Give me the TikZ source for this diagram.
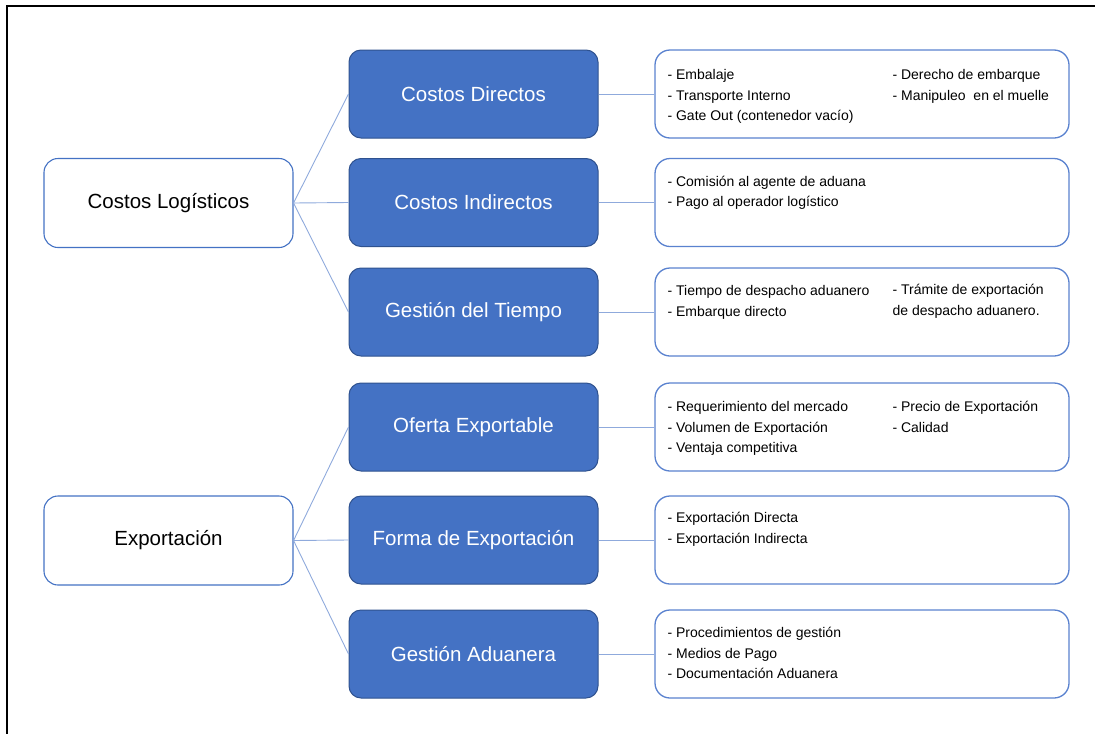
\documentclass[tikz,border=0pt]{standalone}
\usepackage{fontspec}
\setmainfont{Liberation Sans}
\definecolor{bluefill}{HTML}{4472C4}
\definecolor{blueedge}{HTML}{2F528F}
\definecolor{linkblue}{HTML}{8FAADC}
\definecolor{listedge}{HTML}{5A82CF}
\begin{document}
\begin{tikzpicture}[x=1pt,y=-1pt,
    rootbox/.style={draw=bluefill, line width=1.1pt, rounded corners=14pt, fill=white,
        minimum width=249pt, minimum height=89pt, inner sep=0pt,
        font=\fontsize{20.5}{24}\selectfont},
    topicbox/.style={draw=blueedge, line width=1pt, rounded corners=12pt, fill=bluefill,
        text=white, minimum width=249pt, minimum height=88pt, inner sep=0pt,
        font=\fontsize{20.5}{24}\selectfont},
    listbox/.style={draw=listedge, line width=1.3pt, rounded corners=15pt, fill=white,
        minimum width=414pt, minimum height=88pt, inner sep=0pt},
    listtext/.style={anchor=north west, align=left, inner sep=0pt,
        font=\fontsize{14}{20.5}\selectfont},
    link/.style={draw=linkblue, line width=0.9pt}]
    \useasboundingbox (0,0) rectangle (1095,734);
    \draw[line width=2.5pt] (1095,6) -- (7,6) -- (7,734);

    \node[rootbox] (costos) at (168.5,203) {Costos Logísticos};
    \node[rootbox] (export) at (168.5,540.5) {Exportación};

    \node[topicbox] (directos) at (473.5,94) {Costos Directos};
    \node[topicbox] (indirectos) at (473.5,202.5) {Costos Indirectos};
    \node[topicbox] (tiempo) at (473.5,312) {Gestión del Tiempo};
    \node[topicbox] (oferta) at (473.5,427) {Oferta Exportable};
    \node[topicbox] (forma) at (473.5,540) {Forma de Exportación};
    \node[topicbox] (aduanera) at (473.5,654) {Gestión Aduanera};

    \node[listbox] (l-directos) at (862,94) {};
    \node[listbox] (l-indirectos) at (862,202.5) {};
    \node[listbox] (l-tiempo) at (862,312) {};
    \node[listbox] (l-oferta) at (862,427) {};
    \node[listbox] (l-forma) at (862,540) {};
    \node[listbox] (l-aduanera) at (862,654) {};

    \node[listtext] (t-directos-a) at ([shift={(13,20)}]l-directos.north west)
        {- Embalaje\\- Transporte Interno\\- Gate Out (contenedor vacío)};
    \node[listtext] (t-directos-b) at ([shift={(238,20)}]l-directos.north west)
        {- Derecho de embarque\\- Manipuleo~ en el muelle};
    \node[listtext] (t-indirectos) at ([shift={(13,18)}]l-indirectos.north west)
        {- Comisión al agente de aduana\\- Pago al operador logístico};
    \node[listtext] (t-tiempo-a) at ([shift={(13,18)}]l-tiempo.north west)
        {- Tiempo de despacho aduanero\\- Embarque directo};
    \node[listtext] (t-tiempo-b) at ([shift={(238,17)}]l-tiempo.north west)
        {- Trámite de exportación\\de despacho aduanero.};
    \node[listtext] (t-oferta-a) at ([shift={(13,19)}]l-oferta.north west)
        {- Requerimiento del mercado\\- Volumen de Exportación\\- Ventaja competitiva};
    \node[listtext] (t-oferta-b) at ([shift={(238,19)}]l-oferta.north west)
        {- Precio de Exportación\\- Calidad};
    \node[listtext] (t-forma) at ([shift={(13,17)}]l-forma.north west)
        {- Exportación Directa\\- Exportación Indirecta};
    \node[listtext] (t-aduanera) at ([shift={(13,18)}]l-aduanera.north west)
        {- Procedimientos de gestión\\- Medios de Pago\\- Documentación Aduanera};

    \draw[link] (costos.east) -- (directos.west);
    \draw[link] (costos.east) -- (indirectos.west);
    \draw[link] (costos.east) -- (tiempo.west);
    \draw[link] (export.east) -- (oferta.west);
    \draw[link] (export.east) -- (forma.west);
    \draw[link] (export.east) -- (aduanera.west);

    \draw[link] (directos.east) -- (l-directos.west);
    \draw[link] (indirectos.east) -- (l-indirectos.west);
    \draw[link] (tiempo.east) -- (l-tiempo.west);
    \draw[link] (oferta.east) -- (l-oferta.west);
    \draw[link] (forma.east) -- (l-forma.west);
    \draw[link] (aduanera.east) -- (l-aduanera.west);
\end{tikzpicture}
\end{document}
